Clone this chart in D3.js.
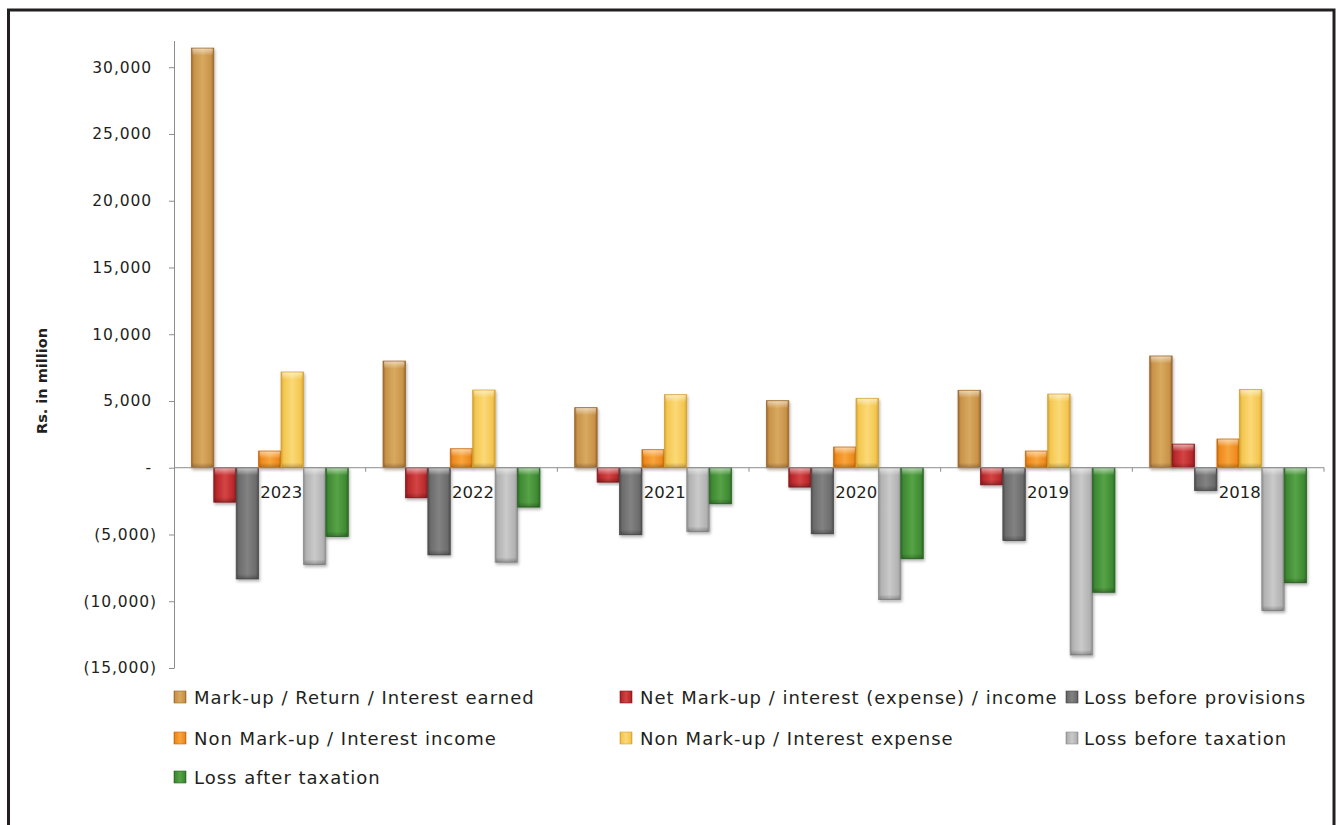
<!DOCTYPE html>
<html>
<head>
<meta charset="utf-8">
<script src="https://cdn.jsdelivr.net/npm/d3@7"></script>
<style>
  html, body { margin: 0; padding: 0; background: #fff; }
  svg { display: block; }
  text { font-family: "DejaVu Sans", sans-serif; fill: #231f20; }
</style>
</head>
<body>
<svg id="chart" width="1336" height="825"></svg>
<script>
// Years shown left to right
const years = ["2023", "2022", "2021", "2020", "2019", "2018"];

// Series names (legend order)
const seriesNames = [
  "Mark-up / Return / Interest earned",
  "Net Mark-up / interest (expense) / income",
  "Loss before provisions",
  "Non Mark-up / Interest income",
  "Non Mark-up / Interest expense",
  "Loss before taxation",
  "Loss after taxation"
];

// Values in Rs. million, one entry per year
const markupEarned      = [31430, 7990, 4500, 5020, 5800, 8370];
const netMarkup         = [-2580, -2250, -1080, -1450, -1280, 1770];
const lossBeforeProv    = [-8330, -6530, -5020, -4950, -5450, -1700];
const nonMarkupIncome   = [1250, 1420, 1350, 1550, 1250, 2150];
const nonMarkupExpense  = [7170, 5820, 5470, 5200, 5520, 5850];
const lossBeforeTax     = [-7250, -7080, -4780, -9880, -14030, -10700];
const lossAfterTax      = [-5150, -2950, -2700, -6820, -9330, -8620];

// Y axis ticks
const yTicks = [-15000, -10000, -5000, 0, 5000, 10000, 15000, 20000, 25000, 30000];

const seriesValues = [markupEarned, netMarkup, lossBeforeProv, nonMarkupIncome,
                      nonMarkupExpense, lossBeforeTax, lossAfterTax];

// Bar colours: [edge, body, highlight]
const palette = [
  ["#9a682c", "#c99248", "#d8a960"],
  ["#8e1a1d", "#b8282b", "#d44444"],
  ["#4c4c4c", "#6c6c6c", "#828282"],
  ["#c8680c", "#ef8a1d", "#f7a53c"],
  ["#d4a232", "#f4c650", "#fbd977"],
  ["#8e8e8e", "#b2b2b2", "#cacaca"],
  ["#2b6a24", "#3f8a34", "#56a346"]
];

const svg = d3.select("#chart");
const defs = svg.append("defs");

// Drop shadow under bars
const shadow = defs.append("filter").attr("id", "shadow")
  .attr("x", "-30%").attr("y", "-10%").attr("width", "160%").attr("height", "130%");
shadow.append("feDropShadow").attr("dx", 1).attr("dy", 2)
  .attr("stdDeviation", 1.4).attr("flood-color", "#000").attr("flood-opacity", 0.3);

// Horizontal bevel gradients per series
palette.forEach((c, i) => {
  const g = defs.append("linearGradient").attr("id", "grad" + i)
    .attr("x1", "0%").attr("x2", "100%").attr("y1", "0%").attr("y2", "0%");
  g.append("stop").attr("offset", "0%").attr("stop-color", c[0]);
  g.append("stop").attr("offset", "12%").attr("stop-color", c[1]);
  g.append("stop").attr("offset", "50%").attr("stop-color", c[2]);
  g.append("stop").attr("offset", "88%").attr("stop-color", c[1]);
  g.append("stop").attr("offset", "100%").attr("stop-color", c[0]);
});
// Top gloss
const gloss = defs.append("linearGradient").attr("id", "gloss")
  .attr("x1", "0%").attr("x2", "0%").attr("y1", "0%").attr("y2", "100%");
gloss.append("stop").attr("offset", "0%").attr("stop-color", "#fff").attr("stop-opacity", 0.55);
gloss.append("stop").attr("offset", "100%").attr("stop-color", "#fff").attr("stop-opacity", 0);
// Bottom shade
const shade = defs.append("linearGradient").attr("id", "shade")
  .attr("x1", "0%").attr("x2", "0%").attr("y1", "0%").attr("y2", "100%");
shade.append("stop").attr("offset", "0%").attr("stop-color", "#000").attr("stop-opacity", 0);
shade.append("stop").attr("offset", "100%").attr("stop-color", "#000").attr("stop-opacity", 0.25);

// Outer frame
svg.append("rect")
  .attr("x", 8.5).attr("y", 10).attr("width", 1325.5).attr("height", 840)
  .attr("fill", "none").attr("stroke", "#231f20").attr("stroke-width", 3);

// Scales
const plotLeft = 174, plotRight = 1324;
const x0 = d3.scaleBand().domain(years).range([plotLeft, plotRight]).padding(0);
const x1 = d3.scaleBand().domain(d3.range(seriesNames.length))
  .range([0, x0.bandwidth()]).paddingInner(0).paddingOuter(0.775);
const y = d3.scaleLinear().domain([-15000, 32000]).range([668, 40.5]);

// Y axis
const fmt = v => v === 0 ? "-" : (v < 0 ? "(" + d3.format(",")(-v) + ")" : d3.format(",")(v));
const yAxis = svg.append("g").attr("transform", `translate(${plotLeft},0)`)
  .call(d3.axisLeft(y).tickValues(yTicks).tickSize(5).tickSizeOuter(0).tickFormat(fmt));
yAxis.select(".domain").attr("stroke", "#8c8c8c");
yAxis.selectAll(".tick line").attr("stroke", "#8c8c8c");
yAxis.selectAll(".tick text")
  .attr("font-size", "15.5px").attr("letter-spacing", "0.9px")
  .attr("font-family", "DejaVu Sans, sans-serif").attr("fill", "#231f20")
  .attr("x", d => d < 0 ? -17 : -22);

// Y axis title
svg.append("text")
  .attr("transform", "translate(47,381) rotate(-90)")
  .attr("text-anchor", "middle")
  .attr("font-size", "14.5px").attr("font-weight", "bold")
  .text("Rs. in million");

// Bars
const groups = svg.append("g").selectAll("g").data(years).join("g")
  .attr("transform", d => `translate(${x0(d)},0)`);

const bars = groups.selectAll("g.bar")
  .data((yr, yi) => seriesValues.map((vals, si) => ({ si, v: vals[yi] })))
  .join("g").attr("class", "bar").attr("filter", "url(#shadow)");

bars.each(function(d) {
  const g = d3.select(this);
  const bx = x1(d.si), bw = x1.bandwidth();
  const top = y(Math.max(0, d.v)), bot = y(Math.min(0, d.v));
  const h = bot - top;
  g.append("rect").attr("x", bx).attr("y", top).attr("width", bw).attr("height", h)
    .attr("fill", `url(#grad${d.si})`)
    .attr("stroke", palette[d.si][0]).attr("stroke-width", 0.8);
  g.append("rect").attr("x", bx + 1).attr("y", top + 0.5).attr("width", bw - 2)
    .attr("height", Math.min(7, h / 2)).attr("fill", "url(#gloss)");
  g.append("rect").attr("x", bx + 1).attr("y", bot - Math.min(5, h / 3))
    .attr("width", bw - 2).attr("height", Math.min(5, h / 3)).attr("fill", "url(#shade)");
});

// X axis along zero
const xAxisG = svg.append("g");
xAxisG.append("line")
  .attr("x1", plotLeft).attr("x2", plotRight)
  .attr("y1", y(0)).attr("y2", y(0))
  .attr("stroke", "#8c8c8c").attr("stroke-width", 1);
xAxisG.selectAll("line.tk").data(years).join("line")
  .attr("class", "tk")
  .attr("x1", d => x0(d) + x0.bandwidth())
  .attr("x2", d => x0(d) + x0.bandwidth())
  .attr("y1", y(0)).attr("y2", y(0) + 4)
  .attr("stroke", "#8c8c8c");

// Category labels
xAxisG.selectAll("text.cat").data(years).join("text")
  .attr("class", "cat")
  .attr("x", d => x0(d) + x0.bandwidth() / 2 + 11.5)
  .attr("y", y(0) + 30)
  .attr("text-anchor", "middle")
  .attr("font-size", "16.5px")
  .text(d => d);

// Legend
const legendPos = [
  [174, 697, 20], [620, 697, 20], [1066, 697, 18],
  [174, 738, 20], [620, 738, 20], [1066, 738, 18],
  [174, 777, 20]
];
const legend = svg.append("g").selectAll("g").data(seriesNames).join("g")
  .attr("transform", (d, i) => `translate(${legendPos[i][0]},${legendPos[i][1]})`);
legend.append("rect")
  .attr("x", 0).attr("y", -6).attr("width", 12).attr("height", 12)
  .attr("fill", (d, i) => `url(#grad${i})`)
  .attr("stroke", (d, i) => palette[i][0]).attr("stroke-width", 0.6);
legend.append("text")
  .attr("x", (d, i) => legendPos[i][2]).attr("y", 6.5)
  .attr("font-size", "18px").attr("letter-spacing", "1px")
  .text(d => d);
</script>
</body>
</html>
